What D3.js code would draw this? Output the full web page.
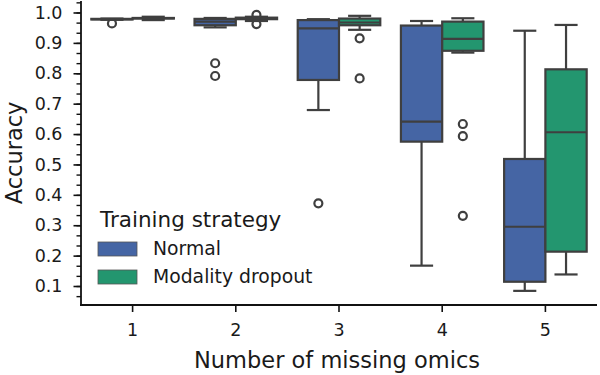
<!DOCTYPE html>
<html>
<head>
<meta charset="utf-8">
<script src="https://cdn.jsdelivr.net/npm/d3@7"></script>
<style>
  body { margin: 0; background: #fff; }
  text { font-family: "DejaVu Sans", sans-serif; fill: #1a1a1a; }
</style>
</head>
<body>
<div id="chart"></div>
<script>
// categories and series
let categories = ["1", "2", "3", "4", "5"]
let hues = ["Normal", "Modality dropout"]
let colors = ["#4565a4", "#23966f"]

// box stats: [whiskerLow, q1, median, q3, whiskerHigh]
let normalStats = [
    [0.976, 0.977, 0.978, 0.979, 0.980],
    [0.951, 0.958, 0.970, 0.979, 0.982],
    [0.679, 0.778, 0.948, 0.975, 0.978],
    [0.167, 0.575, 0.641, 0.957, 0.972],
    [0.084, 0.114, 0.295, 0.518, 0.940]
]
let dropoutStats = [
    [0.975, 0.980, 0.981, 0.982, 0.986],
    [0.972, 0.978, 0.981, 0.983, 0.986],
    [0.943, 0.958, 0.967, 0.980, 0.989],
    [0.868, 0.874, 0.913, 0.970, 0.981],
    [0.138, 0.213, 0.606, 0.813, 0.959]
]
let normalOutliers = [[0.964], [0.833, 0.791], [0.372], [], []]
let dropoutOutliers = [[], [0.992, 0.962], [0.915, 0.783], [0.633, 0.593, 0.331], []]

let yTicks = [0.1, 0.2, 0.3, 0.4, 0.5, 0.6, 0.7, 0.8, 0.9, 1.0]

let width = 600, height = 375
let lineColor = "#3f3f3f"

let svg = d3.select('#chart')
    .append('svg')
    .attr('width', width)
    .attr('height', height)

let x = d3.scaleBand()
    .domain(categories)
    .range([81, 597])
    .paddingInner(0)

let y = d3.scaleLinear()
    .domain([0.0375, 1.0378])
    .range([305, 1])

let hueScale = d3.scaleBand()
    .domain(hues)
    .range([0, x.bandwidth() * 0.8])

// minor ticks every 1/30
let minorTicks = d3.range(1, 32).map(k => k / 30).filter(v => v >= y.domain()[0] && v <= y.domain()[1] + 0.0001)

// y axis
let yAxis = svg.append('g')
    .attr('transform', 'translate(81,0)')
    .call(d3.axisLeft(y).tickValues(yTicks).tickFormat(d3.format('.1f')).tickSize(7.5).tickPadding(11))
yAxis.select('.domain').remove()
yAxis.selectAll('.tick line').attr('stroke', '#111').attr('stroke-width', 1.6)
yAxis.selectAll('.tick text').attr('font-size', 17.5).attr('fill', '#1a1a1a')

let yMinor = svg.append('g')
    .attr('transform', 'translate(81,0)')
    .call(d3.axisLeft(y).tickValues(minorTicks).tickFormat('').tickSize(4.5))
yMinor.select('.domain').remove()
yMinor.selectAll('.tick line').attr('stroke', '#111').attr('stroke-width', 1.4)

// x axis
let xAxis = svg.append('g')
    .attr('transform', 'translate(0,305)')
    .call(d3.axisBottom(x).tickSize(7).tickPadding(12))
xAxis.select('.domain').remove()
xAxis.selectAll('.tick line').attr('stroke', '#111').attr('stroke-width', 1.6)
xAxis.selectAll('.tick text').attr('font-size', 17.5).attr('fill', '#1a1a1a')

// spines
svg.append('line')
    .attr('x1', 81).attr('x2', 81).attr('y1', 1).attr('y2', 306)
    .attr('stroke', '#111').attr('stroke-width', 1.8)
svg.append('line')
    .attr('x1', 80).attr('x2', 597).attr('y1', 305).attr('y2', 305)
    .attr('stroke', '#111').attr('stroke-width', 1.8)

// boxes
let allStats = [normalStats, dropoutStats]
let allOutliers = [normalOutliers, dropoutOutliers]

let boxes = svg.append('g').attr('class', 'boxes')

categories.forEach((cat, ci) => {
    hues.forEach((hue, hi) => {
        let s = allStats[hi][ci]
        let x0 = x(cat) + x.bandwidth() * 0.1 + hueScale(hue)
        let bw = hueScale.bandwidth()
        let cx = x0 + bw / 2
        let capW = bw * 0.56
        let g = boxes.append('g')

        // whiskers
        g.append('line')
            .attr('x1', cx).attr('x2', cx)
            .attr('y1', y(s[0])).attr('y2', y(s[1]))
            .attr('stroke', lineColor).attr('stroke-width', 2.2)
        g.append('line')
            .attr('x1', cx).attr('x2', cx)
            .attr('y1', y(s[3])).attr('y2', y(s[4]))
            .attr('stroke', lineColor).attr('stroke-width', 2.2)
        // caps
        ;[s[0], s[4]].forEach(v => {
            g.append('line')
                .attr('x1', cx - capW / 2).attr('x2', cx + capW / 2)
                .attr('y1', y(v)).attr('y2', y(v))
                .attr('stroke', lineColor).attr('stroke-width', 2.2)
        })
        // box
        g.append('rect')
            .attr('x', x0)
            .attr('y', y(s[3]))
            .attr('width', bw)
            .attr('height', Math.max(0.5, y(s[1]) - y(s[3])))
            .attr('fill', colors[hi])
            .attr('stroke', lineColor)
            .attr('stroke-width', 2.2)
        // median
        g.append('line')
            .attr('x1', x0).attr('x2', x0 + bw)
            .attr('y1', y(s[2])).attr('y2', y(s[2]))
            .attr('stroke', lineColor).attr('stroke-width', 2.2)
        // outliers
        g.selectAll('circle')
            .data(allOutliers[hi][ci])
            .enter()
            .append('circle')
            .attr('cx', cx)
            .attr('cy', d => y(d))
            .attr('r', 4)
            .attr('fill', 'none')
            .attr('stroke', lineColor)
            .attr('stroke-width', 2.2)
    })
})

// axis labels
svg.append('text')
    .attr('x', 337)
    .attr('y', 368)
    .attr('text-anchor', 'middle')
    .attr('font-size', 22.5)
    .text('Number of missing omics')

svg.append('text')
    .attr('transform', 'translate(21.5,153) rotate(-90)')
    .attr('text-anchor', 'middle')
    .attr('font-size', 22.5)
    .text('Accuracy')

// legend
let legend = svg.append('g').attr('class', 'legend')
legend.append('text')
    .attr('x', 100)
    .attr('y', 227)
    .attr('font-size', 21.5)
    .text('Training strategy')

hues.forEach((hue, i) => {
    let ly = 242 + i * 28
    legend.append('rect')
        .attr('x', 98).attr('y', ly)
        .attr('width', 39).attr('height', 14)
        .attr('fill', colors[i])
        .attr('stroke', '#555')
        .attr('stroke-width', 0.8)
    legend.append('text')
        .attr('x', 153)
        .attr('y', ly + 13)
        .attr('font-size', 18.8)
        .text(hue)
})
</script>
</body>
</html>
